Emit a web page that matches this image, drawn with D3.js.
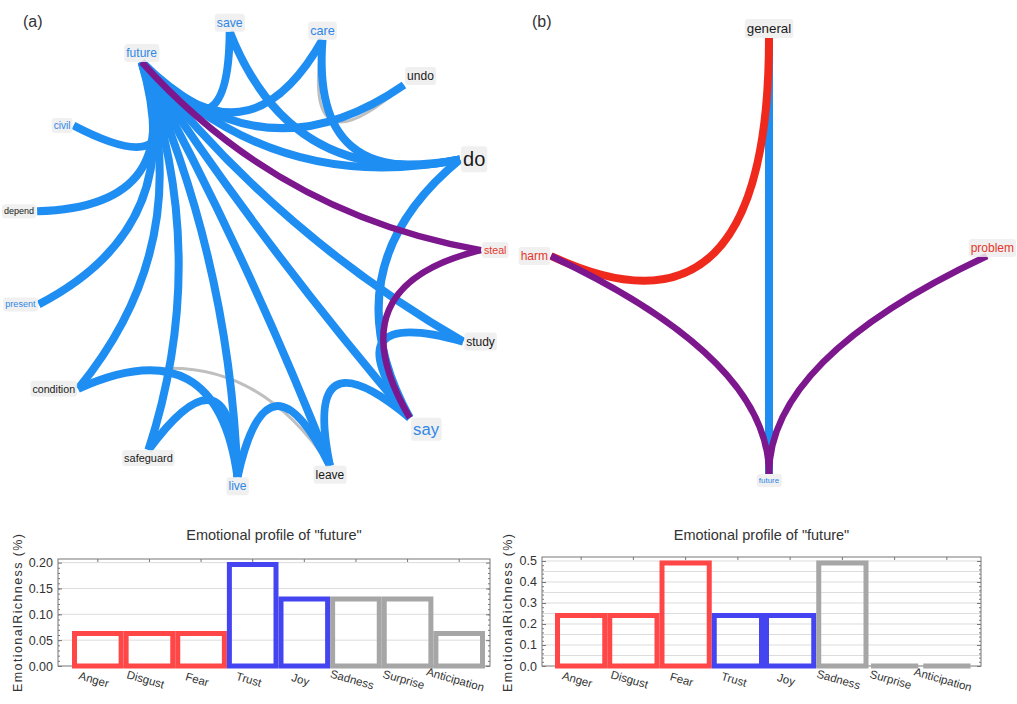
<!DOCTYPE html>
<html>
<head>
<meta charset="utf-8">
<script src="https://cdn.jsdelivr.net/npm/d3@7"></script>
<style>
  body { margin: 0; background: #fff; }
  svg { display: block; font-family: "Liberation Sans", Arial, sans-serif; }
</style>
</head>
<body>
<div id="chart"></div>
<script>
(function () {

    // network (a): words in circular order, clockwise from "steal"
    var wordsA   = ['steal', 'do', 'undo', 'care', 'save', 'future', 'civil', 'depend', 'present',
                    'condition', 'safeguard', 'live', 'leave', 'say', 'study']
    var valenceA = ['neg', 'neu', 'neu', 'pos', 'pos', 'pos', 'pos', 'neu', 'pos',
                    'neu', 'neu', 'pos', 'neu', 'pos', 'neu']
    var freqA    = [3, 10, 4, 4.5, 4.2, 4, 2.5, 1.8, 1.8, 3, 3.2, 4, 4, 7.5, 4]
    var linksA = [
        ['future', 'save', 'pos'], ['future', 'care', 'pos'], ['future', 'undo', 'pos'],
        ['future', 'do', 'pos'], ['future', 'civil', 'pos'], ['future', 'depend', 'pos'],
        ['future', 'present', 'pos'], ['future', 'condition', 'pos'], ['future', 'safeguard', 'pos'],
        ['future', 'live', 'pos'], ['future', 'leave', 'pos'], ['future', 'say', 'pos'],
        ['future', 'study', 'pos'], ['save', 'do', 'pos'], ['care', 'do', 'pos'],
        ['do', 'say', 'pos'], ['study', 'say', 'pos'], ['condition', 'live', 'pos'],
        ['safeguard', 'live', 'pos'], ['live', 'leave', 'pos'], ['leave', 'say', 'pos'],
        ['future', 'steal', 'mix'], ['steal', 'say', 'mix'],
        ['care', 'undo', 'neu'], ['condition', 'leave', 'neu']
    ]

    // network (b)
    var wordsB   = ['general', 'problem', 'future', 'harm']
    var valenceB = ['neu', 'neg', 'pos', 'neg']
    var freqB    = [5, 4, 1, 4]
    var linksB = [
        ['general', 'future', 'pos'], ['harm', 'general', 'neg'],
        ['harm', 'future', 'mix'], ['future', 'problem', 'mix']
    ]

    // emotional profiles
    var emotions     = ['Anger', 'Disgust', 'Fear', 'Trust', 'Joy', 'Sadness', 'Surprise', 'Anticipation']
    var emotionGroup = ['neg', 'neg', 'neg', 'pos', 'pos', 'neu', 'neu', 'neu']
    var richnessA    = [0.0667, 0.0667, 0.0667, 0.2, 0.1333, 0.1333, 0.1333, 0.0667]
    var richnessB    = [0.25, 0.25, 0.5, 0.25, 0.25, 0.5, 0, 0]
    var ticksA = [0, 0.05, 0.10, 0.15, 0.20]
    var ticksB = [0, 0.1, 0.2, 0.3, 0.4, 0.5]
    var gridB  = [0.05, 0.1, 0.15, 0.2, 0.25, 0.3, 0.35, 0.4, 0.45, 0.5]

    var width = 1017, height = 704

    var svg = d3.select('#chart')
        .append('svg')
        .attr('width', width)
        .attr('height', height)

    var edgeColor = {pos: '#1f8ef2', neg: '#f0291d', mix: '#7c178d', neu: '#bfbfbf'}
    var edgeWidth = {pos: 8, neg: 8, mix: 6.5, neu: 3}
    var edgeOrder = {neu: 0, pos: 1, neg: 2, mix: 3}
    var labelColor = {pos: '#2f87e6', neu: '#1a1a1a', neg: '#e5372c'}
    var fontScale = d3.scaleLinear().domain([1, 10]).range([8, 20])

    function drawNetwork(words, valence, freq, links, opt) {
        var angle = d3.scaleLinear().domain([0, words.length]).range([opt.start, opt.start + opt.dir * 360])
        var nodes = words.map(function (w, i) {
            var a = angle(i) * Math.PI / 180
            return {word: w, val: valence[i], freq: freq[i],
                    ux: Math.sin(a), uy: -Math.cos(a),
                    x: opt.cx + opt.r * Math.sin(a), y: opt.cy - opt.r * Math.cos(a)}
        })
        var byWord = {}
        nodes.forEach(function (n) { byWord[n.word] = n })
        var hub = [opt.cx, opt.cy + opt.hubDrop * opt.r]

        var g = svg.append('g')
        var sorted = links.slice().sort(function (a, b) { return edgeOrder[a[2]] - edgeOrder[b[2]] })

        g.selectAll('.edge')
            .data(sorted)
            .enter().append('path')
            .attr('class', 'edge')
            .attr('d', function (d) {
                var s = byWord[d[0]], t = byWord[d[1]]
                var mx = (s.x + t.x) / 2, my = (s.y + t.y) / 2
                var p = d3.path()
                p.moveTo(s.x, s.y)
                p.quadraticCurveTo(mx + opt.pull * (hub[0] - mx), my + opt.pull * (hub[1] - my), t.x, t.y)
                return p.toString()
            })
            .attr('fill', 'none')
            .attr('stroke', function (d) { return edgeColor[d[2]] })
            .attr('stroke-width', function (d) { return edgeWidth[d[2]] })

        var lab = g.selectAll('.word')
            .data(nodes)
            .enter().append('g')
            .attr('class', 'word')
        lab.append('rect')
        lab.append('text')
            .attr('text-anchor', 'middle')
            .attr('dominant-baseline', 'central')
            .attr('font-size', function (d) { return fontScale(d.freq) })
            .attr('fill', function (d) { return labelColor[d.val] })
            .text(function (d) { return d.word })

        lab.each(function (d) {
            var b = d3.select(this).select('text').node().getBBox()
            var pad = 2
            d3.select(this).select('rect')
                .attr('x', b.x - pad).attr('y', b.y - pad)
                .attr('width', b.width + 2 * pad).attr('height', b.height + 2 * pad)
                .attr('rx', 3)
                .attr('fill', '#ededed')
                .attr('opacity', 0.85)
            var ox = d.ux > 0.6 ? b.width / 2 + 3 : d.ux < -0.6 ? -(b.width / 2 + 3) : 0
            var oy = d.uy > 0.65 ? b.height / 2 + 2 : d.uy < -0.65 ? -(b.height / 2 + 2) : 0
            var lx = d.x + ox, ly = d.y + oy
            // keep the word inside the page, lifting it off the edge end
            var over = lx + b.width / 2 + pad + 1 - width
            if (over > 0) { lx -= over; ly -= b.height / 2 + 1 }
            d3.select(this).attr('transform', 'translate(' + lx + ',' + ly + ')')
        })
    }

    drawNetwork(wordsA, valenceA, freqA, linksA,
        {cx: 257, cy: 254, r: 224, start: 89, dir: -1, hubDrop: 0, pull: 0.6})
    drawNetwork(wordsB, valenceB, freqB, linksB,
        {cx: 769, cy: 256, r: 218, start: 0, dir: 1, hubDrop: 0.47, pull: 1})

    svg.append('text').attr('x', 23).attr('y', 27).attr('font-size', 16).attr('fill', '#333').text('(a)')
    svg.append('text').attr('x', 532).attr('y', 27).attr('font-size', 16).attr('fill', '#333').text('(b)')

    var barColor = {neg: '#ff4747', pos: '#4444f0', neu: '#a6a6a6'}

    function drawBars(values, opt) {
        var g = svg.append('g')
        var x = d3.scaleBand().domain(emotions).range([opt.barL, opt.barR]).padding(0)
        var y = d3.scaleLinear().domain([0, opt.yMax]).range([opt.bottom, opt.top])

        g.selectAll('.grid')
            .data(opt.grid)
            .enter().append('line')
            .attr('class', 'grid')
            .attr('x1', opt.left).attr('x2', opt.right)
            .attr('y1', function (d) { return y(d) }).attr('y2', function (d) { return y(d) })
            .attr('stroke', '#dcdcdc')

        g.append('rect')
            .attr('x', opt.left).attr('y', opt.top)
            .attr('width', opt.right - opt.left).attr('height', opt.bottom - opt.top)
            .attr('fill', 'none').attr('stroke', '#777')

        var axes = [
            d3.axisLeft(y).tickValues(opt.ticks).tickFormat(d3.format(opt.fmt)).tickSize(-4).tickPadding(5),
            d3.axisRight(y).tickValues(opt.ticks).tickFormat('').tickSize(-4),
            d3.axisLeft(y).tickValues(opt.minor).tickFormat('').tickSize(-2),
            d3.axisRight(y).tickValues(opt.minor).tickFormat('').tickSize(-2),
            d3.axisTop(x).tickFormat('').tickSize(-3)
        ]
        var at = [opt.left, opt.right, opt.left, opt.right, null]
        axes.forEach(function (ax, i) {
            var a = g.append('g')
                .attr('transform', at[i] === null ? 'translate(0,' + opt.top + ')' : 'translate(' + at[i] + ',0)')
                .call(ax)
            a.select('.domain').remove()
            a.selectAll('line').attr('stroke', '#777')
            a.selectAll('text').attr('font-size', 12.5).attr('fill', '#333')
                .attr('font-family', '"Liberation Sans", Arial, sans-serif')
        })

        g.selectAll('.bar')
            .data(values)
            .enter().append('path')
            .attr('class', 'bar')
            .attr('d', function (v, i) {
                var bottom = y(0), top = Math.min(y(v) + 2, bottom)
                var p = d3.path()
                p.rect(x(emotions[i]) + 2.5, top, x.bandwidth() - 5, bottom - top)
                return p.toString()
            })
            .attr('fill', 'none')
            .attr('stroke', function (v, i) { return barColor[emotionGroup[i]] })
            .attr('stroke-width', 5)

        var xa = g.append('g')
            .attr('transform', 'translate(0,' + opt.bottom + ')')
            .call(d3.axisBottom(x).tickSize(0))
        xa.select('.domain').remove()
        xa.selectAll('text')
            .attr('y', 18).attr('dy', 0)
            .attr('transform', 'rotate(16)')
            .attr('font-size', 11.5).attr('fill', '#333')
            .attr('font-family', '"Liberation Sans", Arial, sans-serif')

        g.append('text')
            .attr('x', (opt.left + opt.right) / 2).attr('y', 540)
            .attr('text-anchor', 'middle').attr('font-size', 14.5).attr('fill', '#333')
            .text('Emotional profile of "future"')

        g.append('text')
            .attr('transform', 'translate(' + opt.labelX + ',613) rotate(-90)')
            .attr('text-anchor', 'middle').attr('font-size', 12.5).attr('fill', '#333')
            .attr('textLength', 158).attr('lengthAdjust', 'spacing')
            .text('EmotionalRichness (%)')
    }

    drawBars(richnessA, {left: 58, right: 490, top: 559, bottom: 666, barL: 72, barR: 485,
        yMax: 0.207, ticks: ticksA, grid: ticksA.slice(1), fmt: '.2f',
        minor: d3.range(0.01, 0.2, 0.01), labelX: 22})
    drawBars(richnessB, {left: 542, right: 981, top: 557, bottom: 666, barL: 555, barR: 973,
        yMax: 0.519, ticks: ticksB, grid: gridB, fmt: '.1f',
        minor: d3.range(0.02, 0.5, 0.02), labelX: 512})

})()
</script>
</body>
</html>
